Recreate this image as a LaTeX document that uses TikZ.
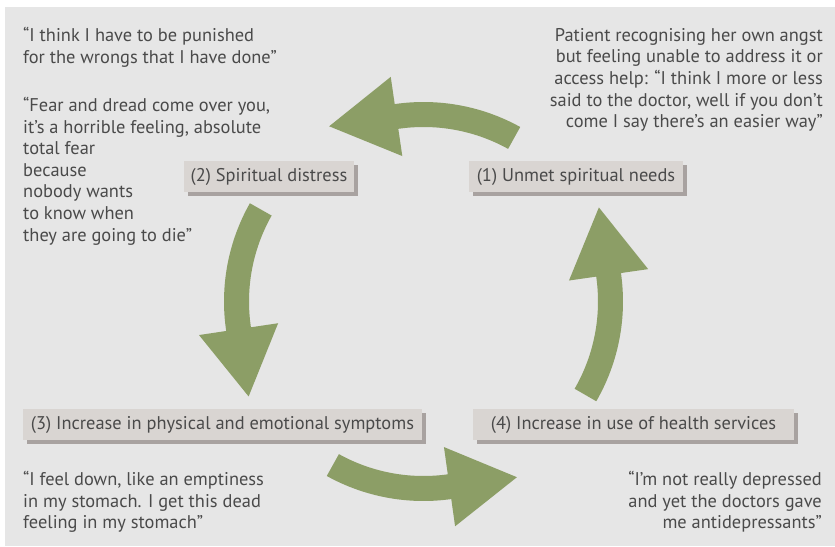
\documentclass[tikz,border=0pt]{standalone}
\usepackage{fontspec}
\setmainfont{PT Sans}
\usetikzlibrary{shadows}
\definecolor{panel}{HTML}{E6E6E6}
\definecolor{boxfill}{HTML}{D9D5D2}
\definecolor{boxshadow}{HTML}{A8A2A0}
\definecolor{arrowgreen}{HTML}{8C9E66}
\definecolor{txt}{HTML}{4A4A4A}
\newcommand{\arrowseg}[2]{%
  \fill[arrowfill] (#1:199.5) arc[start angle=#1, end angle=#2, radius=199.5]
    -- (#2:227) -- ({#2+20}:199) -- (#2:147) -- (#2:174.5)
    arc[start angle=#2, end angle=#1, radius=174.5] -- cycle;}
\begin{document}
\begin{tikzpicture}[x=1pt,y=1pt,
  txtfont/.style={text=txt, font=\fontsize{18.4}{21.6}\selectfont},
  stage/.style={txtfont, fill=boxfill, minimum height=31pt, inner sep=0pt,
    drop shadow={shadow xshift=4pt, shadow yshift=-4pt, fill=boxshadow, opacity=1}},
  quote/.style={txtfont, inner sep=0pt},
  arrowfill/.style={fill=arrowgreen}]
\useasboundingbox (0,0) rectangle (835,546);
\fill[panel] (5,0) rectangle (835,539);

% stage boxes
\node[stage, minimum width=214pt] (b1) at (576,369.5) {(1) Unmet spiritual needs};
\node[stage, minimum width=170pt] (b2) at (269,369.5) {(2) Spiritual distress};
\node[stage, minimum width=399pt] (b3) at (222.5,121.5) {(3) Increase in physical and emotional symptoms};
\node[stage, minimum width=321pt] (b4) at (633.5,121.5) {(4) Increase in use of health services};

% cycle arrows
\begin{scope}[shift={(423.5,244.5)}]
  \arrowseg{61}{98.3}
  \arrowseg{150.5}{188.5}
  \arrowseg{241}{278}
  \arrowseg{330}{368.2}
\end{scope}

% quotes
\node[quote, anchor=north west, align=left] (q1) at (23,519)
  {“I think I have to be punished\\for the wrongs that I have done”};
\node[quote, anchor=north west, align=left] (q2) at (23,449)
  {“Fear and dread come over you,\\it’s a horrible feeling, absolute\\total fear\\because\\nobody wants\\to know when\\they are going to die”};
\node[quote, anchor=north east, align=right] (q3) at (823,518)
  {Patient recognising her own angst\\but feeling unable to address it or\\access help: “I think I more or less\\said to the doctor, well if you don’t\\come I say there’s an easier way”};
\node[quote, anchor=north west, align=left] (q4) at (23,75)
  {“I feel down, like an emptiness\\in my stomach. I get this dead\\feeling in my stomach”};
\node[quote, anchor=north east, align=right] (q5) at (822,75)
  {“I’m not really depressed\\and yet the doctors gave\\me antidepressants”};
\end{tikzpicture}
\end{document}
